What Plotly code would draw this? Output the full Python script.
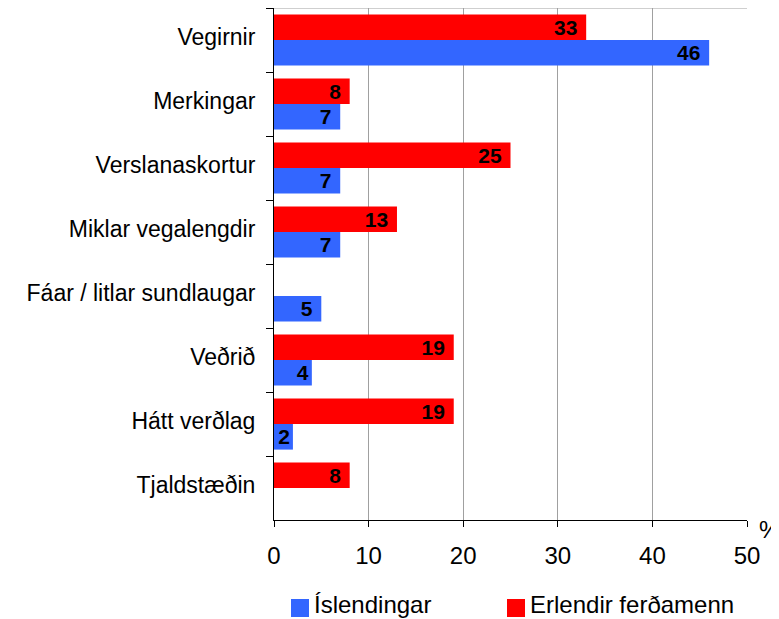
import plotly.graph_objects as go

categories = ["Vegirnir", "Merkingar", "Verslanaskortur", "Miklar vegalengdir",
              "Fáar / litlar sundlaugar", "Veðrið", "Hátt verðlag", "Tjaldstæðin"]
islendingar = [46, 7, 7, 7, 5, 4, 2, None]
erlendir = [33, 8, 25, 13, None, 19, 19, 8]
series_names = ["Íslendingar", "Erlendir ferðamenn"]
x_ticks = [0, 10, 20, 30, 40, 50]

BLUE = "#3366FF"
RED = "#FF0000"
FONT = "Liberation Sans, Arial, sans-serif"
NBSP = "\u00a0"

fig = go.Figure()
for vals, col, name in [(erlendir, RED, series_names[1]), (islendingar, BLUE, series_names[0])]:
    fig.add_trace(go.Bar(
        y=categories, x=vals, orientation="h", name=name,
        marker=dict(color=col, line=dict(width=0)),
        text=[(str(v) + (NBSP if v >= 5 else "")) if v is not None else "" for v in vals],
        textposition="inside", insidetextanchor="end", textangle=0,
        textfont=dict(family=FONT, size=21, color="black", weight="bold"),
        showlegend=False,
    ))

# the page adds an 8px body margin, so the figure is sized 8px smaller
fig.update_layout(
    width=771, height=611,
    margin=dict(l=266, r=32, t=0, b=99),
    paper_bgcolor="white", plot_bgcolor="white",
    barmode="group", bargap=0.2, bargroupgap=0,
    font=dict(family=FONT, size=22, color="black"),
    uniformtext=dict(minsize=21, mode="show"),
)
fig.update_xaxes(
    range=[0, 50], tickvals=x_ticks, ticktext=[str(t) for t in x_ticks],
    showgrid=True, gridcolor="#A0A0A0", gridwidth=1,
    showline=True, linecolor="black", linewidth=1,
    ticks="outside", ticklen=6, tickcolor="black",
    tickfont=dict(family=FONT, size=24), zeroline=False, automargin=False,
    ticklabelstandoff=8,
)
fig.update_yaxes(
    autorange="reversed", showgrid=False,
    showline=True, linecolor="black", linewidth=1,
    ticks="outside", ticklen=7, tickcolor="black", tickson="boundaries",
    tickfont=dict(family=FONT, size=23), ticklabelstandoff=13, ticklabelshift=3,
    automargin=False,
)

# top border
fig.add_shape(type="line", xref="paper", yref="paper", x0=0, x1=1, y0=1, y1=1,
              line=dict(color="#A0A0A0", width=1))

W = 473.0
H = 512.0
def px_x(p):
    return (p - 274) / W
def px_y(p):
    return (520 - p) / H

# % unit label
fig.add_annotation(text="%", xref="paper", yref="paper", x=px_x(769), y=px_y(529),
                   xanchor="center", yanchor="middle", showarrow=False,
                   font=dict(family=FONT, size=24))

# manual legend
for xs, col, name in [(291, BLUE, series_names[0]), (507, RED, series_names[1])]:
    fig.add_shape(type="rect", xref="paper", yref="paper",
                  x0=px_x(xs), x1=px_x(xs + 18), y0=px_y(617), y1=px_y(599),
                  fillcolor=col, line=dict(width=0))
    fig.add_annotation(text=name, xref="paper", yref="paper",
                       x=px_x(xs + 21), y=px_y(604), xanchor="left", yanchor="middle",
                       showarrow=False, font=dict(family=FONT, size=24))

fig.write_html("out.html")
